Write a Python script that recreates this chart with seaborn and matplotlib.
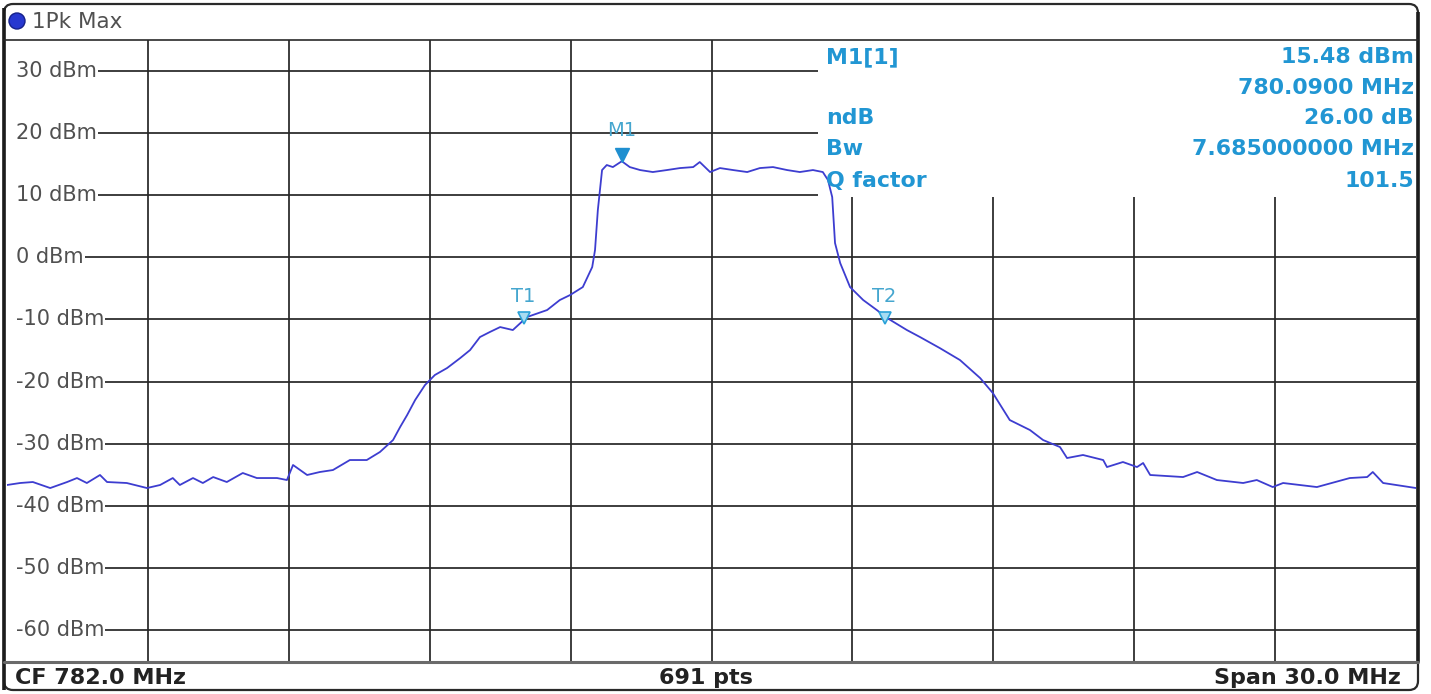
import matplotlib
matplotlib.use("Agg")
import matplotlib.pyplot as plt
import seaborn as sns
import pandas as pd
from matplotlib.patches import FancyBboxPatch, Circle
from matplotlib.transforms import offset_copy

# ---- trace data (1Pk Max) ----
freq_mhz = [
    767.00, 767.28, 767.55, 767.92, 768.28, 768.49, 768.70, 768.98, 769.13, 769.55,
    769.98, 770.26, 770.53, 770.68, 770.96, 771.17, 771.39, 771.68, 772.02, 772.32,
    772.75, 772.96, 773.09, 773.39, 773.66, 773.94, 774.30, 774.66, 774.94, 775.22,
    775.37, 775.52, 775.69, 775.90, 776.11, 776.37, 776.65, 776.86, 777.07, 777.28,
    777.50, 777.77, 778.07, 778.50, 778.77, 778.99, 779.26, 779.46, 779.52, 779.58,
    779.67, 779.77, 779.90, 780.09, 780.26, 780.48, 780.75, 781.05, 781.33, 781.61,
    781.75, 781.97, 782.18, 782.46, 782.76, 783.03, 783.31, 783.61, 783.88, 784.16,
    784.37, 784.48, 784.57, 784.63, 784.74, 784.95, 785.23, 785.52, 785.74, 786.16,
    786.44, 786.86, 787.29, 787.72, 787.99, 788.35, 788.78, 789.06, 789.42, 789.57,
    789.91, 790.34, 790.42, 790.76, 791.06, 791.19, 791.34, 792.04, 792.34, 792.76,
    793.32, 793.61, 793.95, 794.17, 794.89, 795.59, 795.96, 796.08, 796.30, 797.00,
]
level_dbm = [
    -36.65, -36.33, -36.17, -37.14, -36.17, -35.53, -36.33, -35.04, -36.17, -36.33,
    -37.14, -36.65, -35.53, -36.65, -35.53, -36.33, -35.37, -36.17, -34.72, -35.53,
    -35.53, -35.85, -33.43, -35.04, -34.56, -34.24, -32.63, -32.63, -31.34, -29.41,
    -27.32, -25.38, -22.97, -20.55, -18.94, -17.82, -16.21, -14.92, -12.83, -12.02,
    -11.22, -11.70, -9.61, -8.48, -6.87, -6.06, -4.78, -1.56, 1.18, 7.62,
    14.06, 14.87, 14.54, 15.48, 14.54, 14.06, 13.74, 14.06, 14.38, 14.54,
    15.35, 13.74, 14.38, 14.06, 13.74, 14.38, 14.54, 14.06, 13.74, 14.06,
    13.74, 12.45, 9.71, 2.31, -0.91, -4.78, -6.87, -8.48, -9.77, -11.70,
    -12.83, -14.60, -16.53, -19.43, -21.84, -26.19, -27.80, -29.41, -30.54, -32.31,
    -31.82, -32.63, -33.76, -32.95, -33.76, -33.11, -35.04, -35.37, -34.56, -35.85,
    -36.33, -35.85, -36.98, -36.33, -36.98, -35.53, -35.37, -34.56, -36.33, -37.14,
]

# ---- axis / grid ----
y_levels = [30, 20, 10, 0, -10, -20, -30, -40, -50, -60]
y_labels = ["30 dBm", "20 dBm", "10 dBm", "0 dBm", "-10 dBm",
            "-20 dBm", "-30 dBm", "-40 dBm", "-50 dBm", "-60 dBm"]
x_grid = [770, 773, 776, 779, 782, 785, 788, 791, 794]
x_min, x_max = 767.0, 797.0
y_min, y_max = -65.15, 35.0

# ---- markers ----
m1_freq, m1_level = 780.09, 15.48
ndb_down = 26.00
t1_freq, t2_freq = 778.0, 785.685
t_level = m1_level - ndb_down

info_left = ["M1[1]", "", "ndB", "Bw", "Q factor"]
info_right = ["15.48 dBm", "780.0900 MHz", "26.00 dB", "7.685000000 MHz", "101.5"]
footer = ["CF 782.0 MHz", "691 pts", "Span 30.0 MHz"]
trace_name = "1Pk Max"

sns.set_theme(style="white")
plt.rcParams["font.family"] = ["DejaVu Sans"]

W, H = 1431, 694
fig = plt.figure(figsize=(W / 100, H / 100), dpi=100, facecolor="white")
ax = fig.add_axes([7 / W, (H - 662) / H, 1409 / W, 622 / H])

df = pd.DataFrame({"freq_mhz": freq_mhz, "level_dbm": level_dbm})
sns.lineplot(data=df, x="freq_mhz", y="level_dbm", ax=ax, color="#3d3dd0",
             lw=1.3, estimator=None, zorder=4)
ax.set_xlim(x_min, x_max)
ax.set_ylim(y_min, y_max)
ax.axis("off")

grid_kw = dict(color="#262626", lw=1.25, zorder=2, solid_capstyle="butt")
info_x_cut = 784.27     # grid stops left of the marker table
info_y_cut = 9.71       # grid starts below the marker table

# vertical grid lines
for xg in x_grid:
    top = y_max if xg < info_x_cut else info_y_cut
    ax.plot([xg, xg], [y_min, top], **grid_kw)

# level labels inside the diagram
label_texts = []
for lvl, lab in zip(y_levels, y_labels):
    t = ax.text(767.19, lvl, lab, ha="left", va="center", fontsize=15,
                color="#505050", zorder=3)
    label_texts.append(t)

fig.canvas.draw()
renderer = fig.canvas.get_renderer()
inv = ax.transData.inverted()
for t, lvl in zip(label_texts, y_levels):
    bb = t.get_window_extent(renderer)
    x0 = inv.transform((bb.x1 + 1, 0))[0]
    x1 = info_x_cut if lvl >= 10 else x_max
    ax.plot([x0, x1], [lvl, lvl], **grid_kw)

# markers: triangle tip sits on the measured point
mk_blue = "#1f8fd0"
m1_ms = 9.5
tip_m1 = offset_copy(ax.transData, fig=fig, x=0, y=m1_ms / 2, units="points")
ax.plot([m1_freq], [m1_level], marker="v", ms=m1_ms, color=mk_blue, mec=mk_blue,
        ls="none", zorder=6, transform=tip_m1)
ax.annotate("M1", (m1_freq, m1_level), xytext=(0, 22), textcoords="offset points",
            ha="center", va="center", fontsize=14, color="#45a6cf", zorder=6)
t_ms = 8.5
tip_t = offset_copy(ax.transData, fig=fig, x=0, y=t_ms / 2 - 0.5, units="points")
for name, f in (("T1", t1_freq), ("T2", t2_freq)):
    ax.plot([f], [t_level], marker="v", ms=t_ms, mfc="#a8dcf2", mec="#2aa2d8",
            mew=1.2, ls="none", zorder=6, transform=tip_t)
    ax.annotate(name, (f, t_level), xytext=(0, 19), textcoords="offset points",
                ha="center", va="center", fontsize=14, color="#45a6cf", zorder=6)

# ---- frame, header, footer in pixel space ----
ov = fig.add_axes([0, 0, 1, 1], zorder=5)
ov.set_xlim(0, W)
ov.set_ylim(H, 0)
ov.axis("off")

frame = FancyBboxPatch((4, 4), 1414, 686, boxstyle="round,pad=0,rounding_size=9",
                       fc="none", ec="#2a2a2a", lw=1.6)
ov.add_patch(frame)
ov.plot([4, 4], [8, 690], color="#1c1c1c", lw=2.6, solid_capstyle="butt")
ov.plot([1418, 1418], [12, 662], color="#1c1c1c", lw=2.6, solid_capstyle="butt")
ov.plot([4, 1418], [40, 40], color="#2a2a2a", lw=1.2)
ov.plot([4, 1418], [662, 662], color="#6a6a6a", lw=2.2)

ov.add_patch(Circle((17, 21), 8, fc="#2738d0", ec="#15208a", lw=1.0))
ov.text(32, 22, trace_name, ha="left", va="center", fontsize=15.5, color="#505050")

info_blue = "#2196d3"
row_y = [57, 88, 118, 149, 181]
for yy, l, r in zip(row_y, info_left, info_right):
    if l:
        ov.text(826, yy, l, ha="left", va="center", fontsize=15.8,
                fontweight="bold", color=info_blue)
    ov.text(1414, yy, r, ha="right", va="center", fontsize=15.8,
            fontweight="bold", color=info_blue)

ov.text(15, 678, footer[0], ha="left", va="center", fontsize=16,
        fontweight="bold", color="#222222")
ov.text(706, 678, footer[1], ha="center", va="center", fontsize=16,
        fontweight="bold", color="#222222")
ov.text(1401, 678, footer[2], ha="right", va="center", fontsize=16,
        fontweight="bold", color="#222222")

fig.savefig("out.png", dpi=100, facecolor="white")
